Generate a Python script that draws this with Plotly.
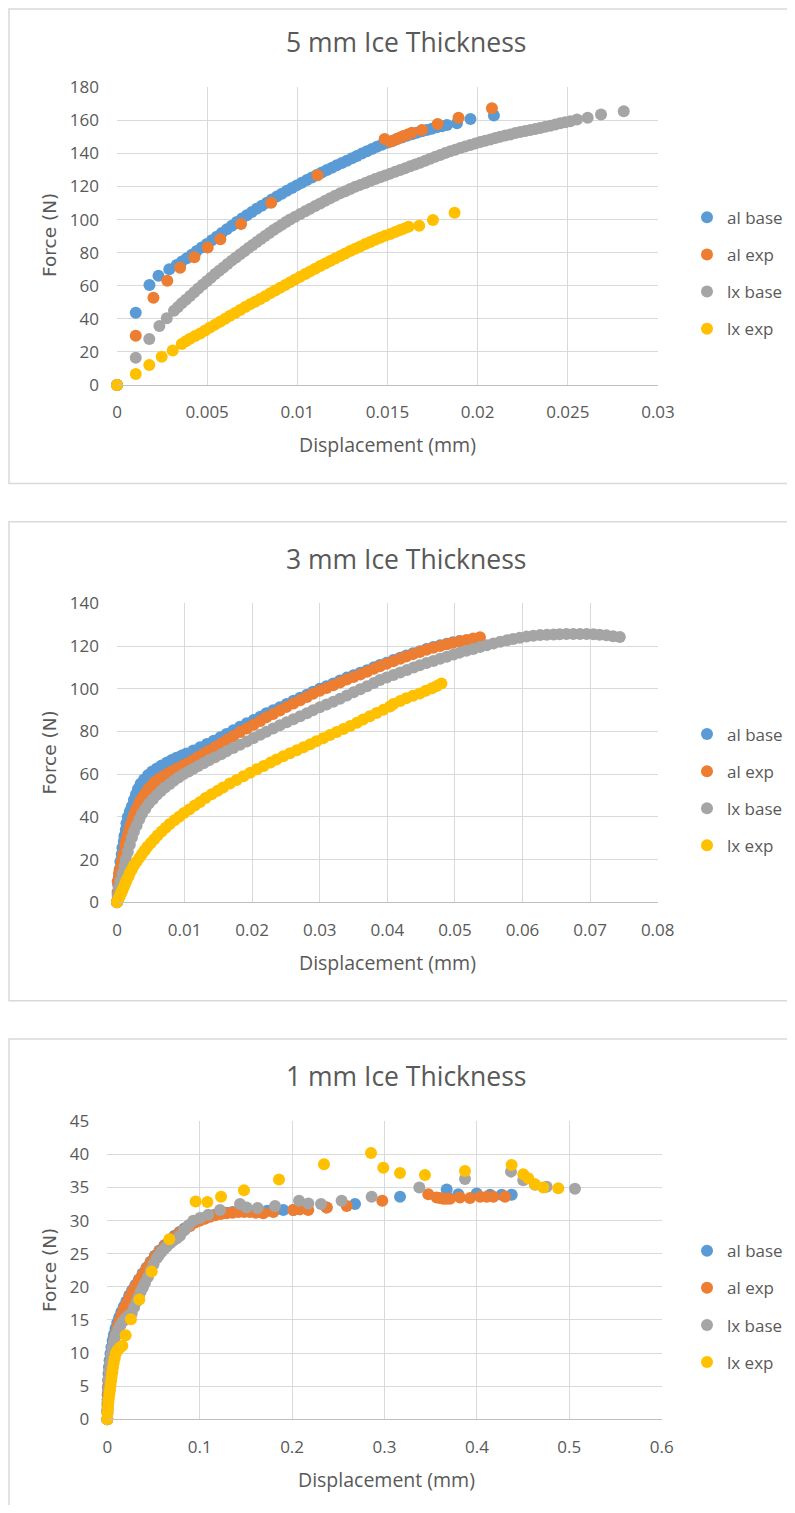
import plotly.graph_objects as go

# target page size in px; the html body keeps its default 8px margin,
# so the figure itself is made smaller and every position is given in page pixels
W, H = 795, 1513
OFF = 8
FIG_W, FIG_H = W - 2 * OFF, H - 2 * OFF

SERIES = ["al base", "al exp", "lx base", "lx exp"]
COLORS = ["#5B9BD5", "#ED7D31", "#A5A5A5", "#FFC000"]
TITLES = ["5 mm Ice Thickness", "3 mm Ice Thickness", "1 mm Ice Thickness"]
X_TITLE = "Displacement (mm)"
Y_TITLE = "Force (N)"

# ---- 5 mm panel: (displacement mm, force N) ----
AL_BASE_5 = [(0, 0), (0.00104, 43.7), (0.0018, 60.5), (0.0023, 66), (0.0029, 70),
             (0.00331, 72.6), (0.00359, 74.6), (0.00387, 76.6), (0.00415, 78.8), (0.00442, 81.0),
             (0.0047, 83.1), (0.00498, 85.2), (0.00526, 87.5), (0.00553, 89.7), (0.00581, 91.9),
             (0.00609, 94.1), (0.00637, 96.3), (0.00664, 98.5), (0.00692, 100.6), (0.0072, 102.6),
             (0.00748, 104.6), (0.00775, 106.6), (0.00803, 108.4), (0.00831, 110.2), (0.00859, 112.1),
             (0.00886, 113.9), (0.00914, 115.7), (0.00942, 117.5), (0.0097, 119.1), (0.00997, 120.7),
             (0.01025, 122.3), (0.01053, 123.9), (0.01081, 125.5), (0.01108, 127.0), (0.01136, 128.5),
             (0.01164, 130.0), (0.01192, 131.4), (0.01219, 132.8), (0.01247, 134.2), (0.01275, 135.6),
             (0.01303, 137.1), (0.0133, 138.5), (0.01358, 139.9), (0.01386, 141.3), (0.01414, 142.7),
             (0.01441, 144.1), (0.01469, 145.3), (0.01497, 146.5), (0.01525, 147.6), (0.01552, 148.7),
             (0.0158, 149.7), (0.01608, 150.7), (0.01636, 151.6), (0.01663, 152.5), (0.01691, 153.4),
             (0.01718, 154.2), (0.01746, 155.0), (0.01774, 155.8), (0.01802, 156.5), (0.0183, 157.2),
             (0.01885, 158.2), (0.0196, 160.8), (0.0209, 163.0)]
AL_EXP_5 = [(0, 0), (0.00104, 29.8), (0.00202, 52.8), (0.00279, 63.1), (0.0035, 70.9),
            (0.00429, 77.2), (0.00503, 83.2), (0.00573, 88.1), (0.00688, 97.3), (0.00855, 110.2),
            (0.01112, 126.8), (0.01484, 148.7), (0.01515, 147.1), (0.01535, 147.8), (0.01552, 148.7),
            (0.0157, 149.6), (0.01589, 150.5), (0.01612, 151.5), (0.01635, 152.5), (0.01691, 154.2),
            (0.01778, 157.8), (0.01894, 161.6), (0.02079, 167.3)]
LX_BASE_5 = [(0, 0), (0.00104, 16.5), (0.00179, 27.8), (0.00235, 35.7), (0.00276, 40.3),
             (0.00316, 44.9), (0.00338, 47.2), (0.00359, 49.4), (0.00382, 51.6), (0.00405, 53.8),
             (0.00428, 56.1), (0.00451, 58.4), (0.00475, 60.6), (0.00498, 62.7), (0.00521, 64.9),
             (0.00544, 67.1), (0.00567, 69.1), (0.0059, 71.1), (0.00613, 73.2), (0.00636, 75.2),
             (0.0066, 77.1), (0.00683, 79.0), (0.00706, 80.9), (0.00729, 82.8), (0.00752, 84.7),
             (0.00775, 86.5), (0.00798, 88.3), (0.00821, 90.1), (0.00845, 91.9), (0.00868, 93.7),
             (0.00891, 95.3), (0.00914, 96.9), (0.00937, 98.5), (0.0096, 100.0), (0.00988, 101.7),
             (0.01016, 103.4), (0.01044, 105.0), (0.01071, 106.6), (0.01099, 108.2), (0.01127, 109.8),
             (0.01155, 111.4), (0.01182, 112.9), (0.0121, 114.4), (0.01238, 115.9), (0.01266, 117.2),
             (0.01293, 118.5), (0.01321, 119.8), (0.01349, 121.0), (0.01377, 122.2), (0.01404, 123.4),
             (0.01432, 124.5), (0.01459, 125.6), (0.01487, 126.7), (0.01515, 127.8), (0.01543, 128.9),
             (0.0157, 130.0), (0.01598, 131.1), (0.01626, 132.2), (0.01654, 133.3), (0.01681, 134.4),
             (0.01709, 135.6), (0.01737, 136.8), (0.01765, 138.0), (0.01792, 139.1), (0.0182, 140.2),
             (0.01848, 141.3), (0.01876, 142.3), (0.01903, 143.3), (0.01931, 144.2), (0.01959, 145.1),
             (0.01987, 146.0), (0.02014, 146.9), (0.02042, 147.7), (0.0207, 148.5), (0.02098, 149.3),
             (0.02125, 150.1), (0.02153, 150.8), (0.02181, 151.5), (0.02209, 152.3), (0.02236, 153.0),
             (0.02264, 153.6), (0.02292, 154.2), (0.0232, 154.8), (0.02347, 155.4), (0.02375, 156.1),
             (0.02403, 156.8), (0.02431, 157.5), (0.02458, 158.2), (0.02486, 158.8), (0.02514, 159.4),
             (0.02551, 160.6), (0.0261, 161.6), (0.02684, 163.6), (0.0281, 165.5)]
LX_EXP_5 = [(0, 0), (0.00104, 6.6), (0.00179, 12.1), (0.00248, 17.1), (0.00309, 20.8),
            (0.00359, 24.8), (0.00382, 26.4), (0.00405, 28.0), (0.00433, 29.6), (0.00462, 31.2),
            (0.00489, 33.0), (0.00516, 34.7), (0.00544, 36.5), (0.00572, 38.3), (0.006, 40.1),
            (0.00627, 41.9), (0.00655, 43.6), (0.00683, 45.3), (0.00711, 47.1), (0.00738, 48.8),
            (0.00766, 50.4), (0.00794, 52.0), (0.00822, 53.7), (0.00849, 55.4), (0.00877, 57.1),
            (0.00905, 58.8), (0.00933, 60.5), (0.0096, 62.1), (0.00988, 63.8), (0.01016, 65.5),
            (0.01044, 67.1), (0.01071, 68.7), (0.01099, 70.3), (0.01127, 71.9), (0.01155, 73.5),
            (0.01182, 75.0), (0.0121, 76.5), (0.01238, 78.0), (0.01266, 79.5), (0.01293, 81.0),
            (0.01321, 82.4), (0.01349, 83.8), (0.01377, 85.2), (0.01404, 86.5), (0.01432, 87.8),
            (0.01459, 89.1), (0.01487, 90.2), (0.01515, 91.3), (0.01543, 92.5), (0.0157, 93.7),
            (0.01594, 94.7), (0.01617, 95.7), (0.01676, 96.3), (0.01752, 99.8), (0.01872, 104.2)]

# ---- 3 mm panel ----
AL_BASE_3 = [(0, 0), (0.0001, 4.0), (0.0002, 8.0), (0.0003, 12.0), (0.0004, 15.5), (0.0005, 19.0),
             (0.0007, 22.5), (0.0008, 25.5), (0.001, 28.5), (0.0011, 31.0), (0.0013, 34.0),
             (0.0014, 37.0), (0.0016, 40.0), (0.0019, 42.5), (0.0022, 45.0), (0.0025, 47.9),
             (0.0028, 50.5), (0.0031, 53.0), (0.0035, 55.5), (0.004, 57.5), (0.0046, 59.6),
             (0.0052, 61.2), (0.0059, 62.7), (0.0066, 64.1), (0.0074, 65.5), (0.0081, 66.6),
             (0.0088, 67.7), (0.0096, 68.7), (0.0103, 69.7), (0.0113, 71.1), (0.0123, 72.6),
             (0.0133, 74.1), (0.0143, 75.7), (0.0153, 77.3), (0.0162, 78.8), (0.0172, 80.5),
             (0.0182, 82.2), (0.0192, 83.8), (0.0202, 85.3), (0.0212, 86.9), (0.0221, 88.5),
             (0.0231, 89.9), (0.0241, 91.3), (0.0251, 92.9), (0.0261, 94.4), (0.0271, 95.8),
             (0.0281, 97.2), (0.029, 98.6), (0.03, 100.0), (0.031, 101.2), (0.032, 102.5),
             (0.033, 103.8), (0.034, 105.2), (0.035, 106.3), (0.036, 107.5), (0.037, 108.7),
             (0.038, 110.0), (0.0389, 111.1), (0.0399, 112.2), (0.0409, 113.4), (0.0419, 114.5),
             (0.0428, 115.6), (0.0438, 116.6), (0.0448, 117.6), (0.0458, 118.6), (0.0468, 119.5),
             (0.0478, 120.3), (0.0488, 121.1), (0.0497, 121.8), (0.0507, 122.4)]
AL_EXP_3 = [(0, 0.5), (0.0001, 5.0), (0.0001, 9.7), (0.0003, 13.6), (0.0005, 16.0), (0.0007, 19.0),
            (0.0009, 22.5), (0.0012, 26.8), (0.0014, 29.2), (0.0016, 31.5), (0.0018, 33.9),
            (0.002, 36.2), (0.0023, 38.6), (0.0025, 40.9), (0.0028, 43.0), (0.0031, 45.1),
            (0.0034, 47.2), (0.0038, 49.2), (0.0042, 51.0), (0.0046, 52.9), (0.0051, 54.6),
            (0.0056, 56.3), (0.0062, 57.7), (0.0069, 59.1), (0.0076, 60.4), (0.0083, 61.6),
            (0.009, 62.8), (0.0098, 64.1), (0.0106, 65.3), (0.0113, 66.6), (0.012, 68.0),
            (0.0128, 69.4), (0.0136, 71.0), (0.0145, 72.6), (0.0154, 74.3), (0.0163, 76.1),
            (0.0172, 77.8), (0.0182, 79.7), (0.0192, 81.4), (0.0202, 83.1), (0.0212, 84.9),
            (0.0221, 86.6), (0.0231, 88.2), (0.0241, 89.8), (0.0251, 91.5), (0.0261, 93.1),
            (0.0271, 94.6), (0.0281, 96.1), (0.029, 97.6), (0.03, 99.1), (0.031, 100.3),
            (0.032, 101.6), (0.033, 102.9), (0.034, 104.3), (0.035, 105.5), (0.036, 106.7),
            (0.037, 108.0), (0.038, 109.3), (0.0389, 110.5), (0.0399, 111.7), (0.0409, 112.9),
            (0.0419, 114.0), (0.0428, 115.1), (0.0438, 116.2), (0.0448, 117.2), (0.0458, 118.2),
            (0.0468, 119.2), (0.0478, 120.0), (0.0488, 120.8), (0.0497, 121.5), (0.0507, 122.2),
            (0.0517, 122.8), (0.0527, 123.5), (0.0537, 124.1)]
LX_BASE_3 = [(0, 0), (0.0001, 3.0), (0.0003, 6.5), (0.0005, 10.0), (0.0008, 13.5), (0.0011, 17.0),
             (0.0013, 20.0), (0.0016, 23.5), (0.0019, 27.0), (0.0022, 30.2), (0.0025, 33.0),
             (0.0029, 36.0), (0.0033, 38.9), (0.0037, 41.5), (0.0042, 43.8), (0.0047, 46.2),
             (0.0053, 48.3), (0.0059, 50.3), (0.0065, 52.1), (0.0071, 53.8), (0.0078, 55.4),
             (0.0084, 56.9), (0.0091, 58.4), (0.0098, 59.9), (0.0106, 61.2), (0.0113, 62.5),
             (0.012, 63.8), (0.0128, 65.1), (0.0136, 66.5), (0.0145, 67.9), (0.0154, 69.3),
             (0.0162, 70.7), (0.0172, 72.3), (0.0182, 73.8), (0.0192, 75.3), (0.0202, 76.9),
             (0.0212, 78.4), (0.0221, 79.9), (0.0231, 81.4), (0.0241, 82.9), (0.0251, 84.3),
             (0.0261, 85.7), (0.0271, 87.1), (0.0281, 88.5), (0.029, 89.9), (0.03, 91.3),
             (0.031, 92.6), (0.032, 93.9), (0.033, 95.3), (0.034, 96.8), (0.035, 98.3),
             (0.036, 99.8), (0.037, 101.2), (0.038, 102.7), (0.0389, 104.1), (0.0399, 105.3),
             (0.0409, 106.4), (0.0419, 107.6), (0.0429, 108.8), (0.0439, 109.9), (0.0448, 111.0),
             (0.0458, 112.0), (0.0468, 113.0), (0.0478, 114.0), (0.0488, 115.0), (0.0498, 116.0),
             (0.0507, 116.9), (0.0517, 117.8), (0.0527, 118.6), (0.0537, 119.5), (0.0547, 120.3),
             (0.0557, 121.2), (0.0567, 122.0), (0.0577, 122.7), (0.0586, 123.3), (0.0596, 123.9),
             (0.0606, 124.4), (0.0616, 124.8), (0.0626, 125.1), (0.0636, 125.3), (0.0646, 125.4),
             (0.0655, 125.5), (0.0665, 125.6), (0.0675, 125.6), (0.0685, 125.6), (0.0695, 125.6),
             (0.0705, 125.5), (0.0714, 125.3), (0.0724, 125.0), (0.0734, 124.6), (0.0744, 124.2)]
LX_EXP_3 = [(0, 0), (0.0002, 1.4), (0.0004, 2.8), (0.0006, 4.2), (0.0008, 5.6), (0.001, 7.2),
            (0.0012, 8.6), (0.0014, 10.2), (0.0017, 12.0), (0.0019, 13.7), (0.0022, 15.4),
            (0.0025, 17.2), (0.0029, 19.0), (0.0033, 20.8), (0.0037, 22.6), (0.0041, 24.3),
            (0.0045, 26.0), (0.005, 27.8), (0.0055, 29.5), (0.006, 31.3), (0.0066, 33.1),
            (0.0072, 34.9), (0.0078, 36.7), (0.0085, 38.4), (0.0092, 40.1), (0.0099, 41.8),
            (0.0107, 43.5), (0.0115, 45.3), (0.0123, 47.0), (0.0131, 48.8), (0.014, 50.6),
            (0.0149, 52.2), (0.0157, 53.8), (0.0167, 55.6), (0.0177, 57.3), (0.0187, 59.0),
            (0.0197, 60.7), (0.0207, 62.3), (0.0217, 63.8), (0.0227, 65.4), (0.0236, 66.9),
            (0.0246, 68.4), (0.0256, 69.8), (0.0266, 71.2), (0.0276, 72.6), (0.0286, 74.0),
            (0.0295, 75.4), (0.0305, 76.8), (0.0315, 78.3), (0.0325, 79.7), (0.0335, 81.1),
            (0.0345, 82.6), (0.0355, 84.1), (0.0364, 85.6), (0.0374, 87.1), (0.0384, 88.6),
            (0.0394, 90.1), (0.0404, 91.7), (0.0409, 92.9), (0.0419, 94.3), (0.0428, 95.5),
            (0.0438, 96.7), (0.0448, 97.8), (0.0457, 99.0), (0.0466, 100.2), (0.0473, 101.3),
            (0.048, 102.5)]

# ---- 1 mm panel ----
AL_BASE_1 = [(0, 0), (0.0001, 1.3), (0.0002, 2.5), (0.0004, 3.7), (0.0006, 4.8), (0.0009, 5.9),
             (0.0013, 6.9), (0.0018, 7.9), (0.0025, 8.9), (0.0034, 9.9), (0.0045, 10.9),
             (0.0058, 11.9), (0.0072, 12.8), (0.0089, 13.7), (0.0108, 14.6), (0.0129, 15.4),
             (0.0152, 16.2), (0.0178, 17.0), (0.0206, 17.8), (0.0237, 18.7), (0.0269, 19.5),
             (0.0304, 20.3), (0.0342, 21.1), (0.0382, 22.0), (0.0424, 22.9), (0.0468, 23.8),
             (0.0514, 24.7), (0.0564, 25.5), (0.0618, 26.3), (0.0672, 27.0), (0.0727, 27.7),
             (0.0781, 28.3), (0.0835, 28.8), (0.0889, 29.3), (0.0943, 29.8), (0.0997, 30.1),
             (0.1052, 30.4), (0.1108, 30.7), (0.1163, 30.9), (0.1227, 31.1), (0.129, 31.2),
             (0.1355, 31.3), (0.1418, 31.4), (0.148, 31.4), (0.155, 31.5), (0.164, 31.5),
             (0.173, 31.5), (0.1815, 31.6), (0.1905, 31.6), (0.2013, 31.6), (0.2374, 32.0),
             (0.2681, 32.5), (0.3168, 33.6), (0.3673, 34.7), (0.3799, 34.0), (0.3998, 34.1),
             (0.4142, 33.9), (0.4268, 33.9), (0.4377, 33.9)]
AL_EXP_1 = [(0, 0), (0.0001, 1.0), (0.0002, 2.0), (0.0004, 3.0), (0.0007, 4.0), (0.0011, 5.0),
            (0.0016, 6.0), (0.0022, 7.0), (0.003, 8.0), (0.004, 9.0), (0.0051, 10.0),
            (0.0063, 11.0), (0.0076, 12.0), (0.0093, 13.0), (0.0112, 14.0), (0.0133, 14.9),
            (0.0156, 15.8), (0.0182, 16.7), (0.021, 17.5), (0.024, 18.4), (0.0271, 19.3),
            (0.0305, 20.1), (0.0343, 21.0), (0.0383, 21.9), (0.0426, 22.8), (0.047, 23.7),
            (0.0516, 24.6), (0.0568, 25.4), (0.0624, 26.2), (0.0678, 26.9), (0.0733, 27.6),
            (0.0787, 28.2), (0.0841, 28.7), (0.0895, 29.2), (0.0949, 29.7), (0.1003, 30.0),
            (0.1057, 30.3), (0.1112, 30.6), (0.1166, 30.8), (0.1229, 31.0), (0.1292, 31.1),
            (0.1355, 31.2), (0.1418, 31.3), (0.1481, 31.3), (0.1544, 31.3), (0.1607, 31.2),
            (0.1688, 31.1), (0.1797, 31.3), (0.2013, 31.6), (0.2085, 31.7), (0.2175, 31.6),
            (0.2374, 32.0), (0.2591, 32.2), (0.2976, 33.0), (0.3474, 34.0), (0.3565, 33.5),
            (0.36, 33.4), (0.3636, 33.3), (0.367, 33.3), (0.3709, 33.3), (0.3817, 33.5),
            (0.3925, 33.4), (0.4034, 33.6), (0.4106, 33.6), (0.4178, 33.6), (0.4304, 33.6)]
LX_BASE_1 = [(0, 0), (0.0002, 1.5), (0.0005, 3.0), (0.0009, 4.5), (0.0014, 6.0), (0.0021, 7.3),
             (0.003, 8.5), (0.0042, 9.7), (0.0056, 10.8), (0.0073, 11.8), (0.0093, 12.7),
             (0.0116, 13.5), (0.0142, 14.2), (0.017, 14.8), (0.02, 15.3), (0.0232, 15.7),
             (0.0264, 16.0), (0.029, 16.9), (0.0318, 17.8), (0.034, 18.6), (0.0362, 19.3),
             (0.0385, 19.9), (0.0408, 20.6), (0.044, 21.5), (0.047, 22.5), (0.05, 23.4),
             (0.0534, 24.3), (0.0561, 24.8), (0.0588, 25.3), (0.0615, 25.7), (0.0643, 26.1),
             (0.068, 26.6), (0.0715, 27.0), (0.075, 27.3), (0.0787, 27.7), (0.083, 28.5),
             (0.088, 29.3), (0.0931, 30.0), (0.1003, 30.4), (0.1093, 30.9), (0.122, 31.6),
             (0.1436, 32.5), (0.1508, 32.0), (0.1627, 31.9), (0.1815, 32.2), (0.2075, 33.0),
             (0.2176, 32.6), (0.2313, 32.5), (0.2536, 33.0), (0.2861, 33.6), (0.3377, 35.0),
             (0.3871, 36.3), (0.4369, 37.4), (0.4502, 36.1), (0.4629, 35.4), (0.4755, 35.1),
             (0.5061, 34.8)]
LX_EXP_1 = [(0, 0), (0.0003, 0.9), (0.0007, 1.8), (0.0011, 2.5), (0.0016, 3.1), (0.0022, 3.8),
            (0.0029, 4.4), (0.0035, 5.1), (0.0041, 5.8), (0.0047, 6.4), (0.0054, 7.1),
            (0.0061, 7.8), (0.0069, 8.5), (0.008, 9.2), (0.0091, 9.9), (0.011, 10.4),
            (0.0135, 10.8), (0.0163, 11.1), (0.0199, 12.7), (0.0256, 15.1), (0.0347, 18.1),
            (0.048, 22.3), (0.0671, 27.2), (0.0956, 32.9), (0.1083, 32.8), (0.1231, 33.6),
            (0.1479, 34.6), (0.1858, 36.2), (0.2345, 38.5), (0.2854, 40.2), (0.2987, 38.0),
            (0.3168, 37.2), (0.3438, 36.9), (0.3871, 37.5), (0.4376, 38.4), (0.4502, 37.0),
            (0.4556, 36.4), (0.4629, 35.5), (0.4719, 35.0), (0.4881, 34.9)]

# ticks
X_TICKS_5 = [0, 0.005, 0.01, 0.015, 0.02, 0.025, 0.03]
X_LABELS_5 = ["0", "0.005", "0.01", "0.015", "0.02", "0.025", "0.03"]
Y_TICKS_5 = [0, 20, 40, 60, 80, 100, 120, 140, 160, 180]
X_TICKS_3 = [0, 0.01, 0.02, 0.03, 0.04, 0.05, 0.06, 0.07, 0.08]
X_LABELS_3 = ["0", "0.01", "0.02", "0.03", "0.04", "0.05", "0.06", "0.07", "0.08"]
Y_TICKS_3 = [0, 20, 40, 60, 80, 100, 120, 140]
X_TICKS_1 = [0, 0.1, 0.2, 0.3, 0.4, 0.5, 0.6]
X_LABELS_1 = ["0", "0.1", "0.2", "0.3", "0.4", "0.5", "0.6"]
Y_TICKS_1 = [0, 5, 10, 15, 20, 25, 30, 35, 40, 45]

TEXT = "#595959"
GRID = "#D9D9D9"

# pixel geometry of each chart block (page pixels)
PANELS = [
    dict(series=[AL_BASE_5, AL_EXP_5, LX_BASE_5, LX_EXP_5], title=TITLES[0],
         xt=X_TICKS_5, xl=X_LABELS_5, yt=Y_TICKS_5,
         box=(9, 483.5), plot=(117, 658, 87.3, 385),
         title_y=41.5, xtitle=(387.5, 444), ytitle_y=235, legend_y=273.3),
    dict(series=[AL_BASE_3, AL_EXP_3, LX_BASE_3, LX_EXP_3], title=TITLES[1],
         xt=X_TICKS_3, xl=X_LABELS_3, yt=Y_TICKS_3,
         box=(521.7, 1000.7), plot=(117, 657.7, 603.3, 902.3),
         title_y=558.5, xtitle=(387.5, 962), ytitle_y=752.4, legend_y=790),
    dict(series=[AL_BASE_1, AL_EXP_1, LX_BASE_1, LX_EXP_1], title=TITLES[2],
         xt=X_TICKS_1, xl=X_LABELS_1, yt=Y_TICKS_1,
         box=(1039, 1560), plot=(107.3, 661.7, 1121.3, 1419.3),
         title_y=1076, xtitle=(386, 1479.5), ytitle_y=1270, legend_y=1306.7),
]


def px(x):
    return (x - OFF) / FIG_W


def py(y):
    return 1 - (y - OFF) / FIG_H


fig = go.Figure()
shapes, annotations = [], []

for i, p in enumerate(PANELS, start=1):
    sfx = "" if i == 1 else str(i)
    for name, color, pts in zip(SERIES, COLORS, p["series"]):
        fig.add_trace(go.Scatter(
            x=[q[0] for q in pts], y=[q[1] for q in pts],
            mode="markers", name=name,
            marker=dict(color=color, size=12, line=dict(width=0)),
            xaxis="x" + sfx, yaxis="y" + sfx, legend="legend" + sfx,
            legendgroup=f"{name}-{i}", cliponaxis=False,
        ))

    x0, x1, y0, y1 = p["plot"]
    axis_common = dict(showgrid=True, gridcolor=GRID, gridwidth=1, zeroline=False,
                       ticks="", tickfont=dict(size=17, color=TEXT), fixedrange=True,
                       automargin=False)
    fig.update_layout(**{
        "xaxis" + sfx: dict(domain=[px(x0), px(x1)], anchor="y" + sfx,
                            range=[0, p["xt"][-1]], tickmode="array",
                            tickvals=p["xt"], ticktext=p["xl"],
                            showline=True, linecolor="#BFBFBF", linewidth=1,
                            ticklabelstandoff=12, **axis_common),
        "yaxis" + sfx: dict(domain=[py(y1), py(y0)], anchor="x" + sfx,
                            range=[0, p["yt"][-1]], tickmode="array",
                            tickvals=p["yt"], ticktext=[str(v) for v in p["yt"]],
                            showline=False, ticklabelstandoff=17, **axis_common),
        "legend" + sfx: dict(x=px(687), y=py(p["legend_y"]), xanchor="left", yanchor="middle",
                             font=dict(size=17, color=TEXT), traceorder="grouped",
                             tracegroupgap=12, bgcolor="rgba(0,0,0,0)", itemclick=False),
    })

    b0, b1 = p["box"]
    shapes.append(dict(type="rect", xref="paper", yref="paper",
                       x0=px(9), x1=1.05, y0=py(b1), y1=py(b0),
                       line=dict(color="#D9D9D9", width=1.5), fillcolor="rgba(0,0,0,0)"))

    annotations.append(dict(xref="paper", yref="paper", x=px(406), y=py(p["title_y"]),
                            xanchor="center", yanchor="middle", text=p["title"],
                            font=dict(size=26.5, color=TEXT), showarrow=False))
    annotations.append(dict(xref="paper", yref="paper", x=px(p["xtitle"][0]), y=py(p["xtitle"][1]),
                            xanchor="center", yanchor="middle", text=X_TITLE,
                            font=dict(size=19.5, color=TEXT), showarrow=False))
    annotations.append(dict(xref="paper", yref="paper", x=px(49), y=py(p["ytitle_y"]),
                            xanchor="center", yanchor="middle", text=Y_TITLE, textangle=-90,
                            font=dict(family="DejaVu Sans", size=18.5, color=TEXT), showarrow=False))

fig.update_layout(
    width=FIG_W, height=FIG_H,
    margin=dict(l=0, r=0, t=0, b=0, pad=0, autoexpand=False),
    paper_bgcolor="white", plot_bgcolor="white",
    font=dict(family="Open Sans", color=TEXT),
    showlegend=True,
    shapes=shapes,
    annotations=annotations,
)

fig.write_html("out.html")
